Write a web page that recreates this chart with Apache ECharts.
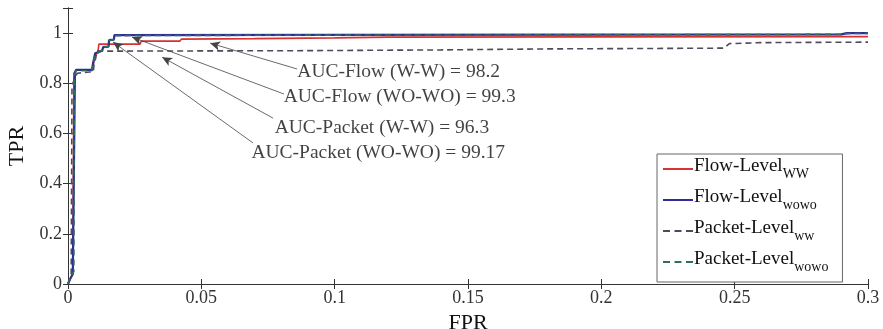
<!DOCTYPE html>
<html>
<head>
<meta charset="utf-8">
<script src="https://cdn.jsdelivr.net/npm/echarts@6/dist/echarts.min.js"></script>
<style>
  html, body { margin: 0; padding: 0; background: #fff; }
  #chart { width: 883px; height: 329px; }
</style>
</head>
<body>
<div id="chart"></div>
<script>
// ROC curves, [FPR, TPR] step corners
const flowWW = [
  [0, 0], [0.0008, 0.02], [0.0018, 0.04], [0.0022, 0.84], [0.003, 0.853], [0.0092, 0.853],
  [0.0096, 0.88], [0.0102, 0.91], [0.0112, 0.925], [0.0116, 0.956], [0.027, 0.956],
  [0.0275, 0.968], [0.042, 0.968], [0.0425, 0.976], [0.07, 0.978], [0.1, 0.981],
  [0.12, 0.984], [0.2, 0.985], [0.3, 0.986]
];
const flowWOWO = [
  [0, 0], [0.0008, 0.02], [0.0018, 0.04], [0.0024, 0.045], [0.0026, 0.84], [0.003, 0.853],
  [0.009, 0.853], [0.0094, 0.88], [0.0102, 0.92], [0.0128, 0.93], [0.0132, 0.944],
  [0.0152, 0.946], [0.0154, 0.972], [0.0172, 0.974], [0.0174, 0.992], [0.1, 0.993],
  [0.2, 0.994], [0.29, 0.995], [0.292, 1], [0.3, 1]
];
const packetWW = [
  [0, 0], [0.0006, 0.02], [0.0012, 0.04], [0.0015, 0.79], [0.0025, 0.82], [0.0035, 0.84],
  [0.008, 0.845], [0.0095, 0.845], [0.0098, 0.88], [0.0104, 0.9], [0.0108, 0.928],
  [0.09, 0.93], [0.14, 0.933], [0.18, 0.937], [0.246, 0.94], [0.248, 0.958],
  [0.26, 0.962], [0.3, 0.964]
];
const packetWOWO = [
  [0, 0], [0.0006, 0.02], [0.0016, 0.04], [0.0022, 0.05], [0.0024, 0.83], [0.003, 0.85],
  [0.009, 0.85], [0.0094, 0.88], [0.0102, 0.915], [0.0128, 0.93], [0.0132, 0.944],
  [0.0152, 0.946], [0.0154, 0.97], [0.0172, 0.974], [0.0174, 0.99], [0.1, 0.992],
  [0.2, 0.993], [0.29, 0.995], [0.292, 0.998], [0.3, 0.999]
];

const seriesNames = ['Flow-Level WW', 'Flow-Level wowo', 'Packet-Level ww', 'Packet-Level wowo'];
const legendMain = ['Flow-Level', 'Flow-Level', 'Packet-Level', 'Packet-Level'];
const legendSub = ['WW', 'wowo', 'ww', 'wowo'];

// AUC annotations: text, text anchor, arrow tail and arrow head (data coords)
const annoText = ['AUC-Flow (W-W) = 98.2', 'AUC-Flow (WO-WO) = 99.3',
  'AUC-Packet (W-W) = 96.3', 'AUC-Packet (WO-WO) = 99.17'];
const annoAt = [[0.0858, 0.845], [0.0807, 0.745], [0.0773, 0.6215], [0.0686, 0.522]];
const annoFrom = [[0.0859, 0.857], [0.081, 0.757], [0.0769, 0.661], [0.0694, 0.562]];
const annoTo = [[0.0533, 0.960], [0.024, 0.984], [0.0353, 0.904], [0.0169, 0.964]];

const serif = '"Liberation Serif", "DejaVu Serif", serif';
const axisColor = '#333';

// legend samples: solid bar or three dashes
const solidIcon = 'path://M0,0h30v2h-30z';
const dashIcon = 'path://M0,0h7v2h-7z M11.5,0h7v2h-7z M23,0h7v2h-7z';
const legendIcons = [solidIcon, solidIcon, dashIcon, dashIcon];

const chart = echarts.init(document.getElementById('chart'));

const tickFmt = v => (Math.abs(v - 1.1) < 1e-9 ? '' : String(+v.toFixed(2)));

const boxAxis = {
  axisLine: { show: true, lineStyle: { color: axisColor, width: 1 } },
  axisTick: { show: true, inside: true, length: 5, lineStyle: { color: axisColor } },
  splitLine: { show: false }
};

function curve(name, data, color, width, dashed, z) {
  return {
    name, type: 'line', data, showSymbol: false, symbol: 'none', z,
    lineStyle: { color, width, type: dashed ? [6, 4] : 'solid' },
    itemStyle: { color },
    animation: false
  };
}

chart.setOption({
  animation: false,
  grid: { left: 68, right: 15, top: 8, bottom: 45, containLabel: false, outerBoundsMode: 'none' },
  xAxis: [
    Object.assign({
      type: 'value', min: 0, max: 0.3, interval: 0.05, position: 'bottom',
      name: 'FPR', nameLocation: 'middle', nameGap: 22,
      nameTextStyle: { fontFamily: serif, fontSize: 22, color: '#111' },
      axisLabel: { formatter: tickFmt, fontFamily: serif, fontSize: 18, color: axisColor, margin: 5 }
    }, boxAxis),
    Object.assign({
      type: 'value', min: 0, max: 0.3, interval: 0.05, position: 'top',
      axisLabel: { show: false }
    }, boxAxis)
  ],
  yAxis: [
    Object.assign({
      type: 'value', min: 0, max: 1.1, interval: 0.2, position: 'left',
      name: 'TPR', nameLocation: 'middle', nameGap: 40,
      nameTextStyle: { fontFamily: serif, fontSize: 22, color: '#111' },
      axisLabel: { formatter: tickFmt, fontFamily: serif, fontSize: 18, color: axisColor, margin: 6 }
    }, boxAxis),
    Object.assign({
      type: 'value', min: 0, max: 1.1, interval: 0.2, position: 'right',
      axisLabel: { show: false }
    }, boxAxis)
  ],
  legend: {
    data: seriesNames.map((n, i) => ({ name: n, icon: legendIcons[i] })),
    orient: 'vertical',
    left: 657, top: 154,
    width: 187,
    padding: [1, 14, 8, 6],
    itemGap: 5,
    itemWidth: 30,
    itemHeight: 2,
    backgroundColor: '#fff',
    borderColor: '#666',
    borderWidth: 1,
    selectedMode: false,
    formatter: name => {
      const i = seriesNames.indexOf(name);
      return '{m|' + legendMain[i] + '}{s|' + legendSub[i] + '}';
    },
    textStyle: {
      padding: [0, 0, 0, -4],
      rich: {
        m: { fontFamily: serif, fontSize: 19, color: '#111', lineHeight: 24, verticalAlign: 'top' },
        s: { fontFamily: serif, fontSize: 14, color: '#111', lineHeight: 24, verticalAlign: 'bottom', padding: [12, 0, 0, 0] }
      }
    }
  },
  series: [
    curve(seriesNames[0], flowWW, '#d83232', 1.6, false, 2),
    curve(seriesNames[1], flowWOWO, '#2e2e94', 2.2, false, 3),
    curve(seriesNames[2], packetWW, '#4e4a5a', 1.6, true, 4),
    curve(seriesNames[3], packetWOWO, '#2f6e62', 1.6, true, 5),
    {
      name: 'notes', type: 'scatter', silent: true, z: 6,
      symbolSize: 1, itemStyle: { color: 'rgba(0,0,0,0)' },
      data: annoAt.map((p, i) => ({ value: p, label: { formatter: annoText[i] } })),
      label: {
        show: true, position: 'right', distance: 0,
        fontFamily: serif, fontSize: 19.5, color: '#111'
      },
      markLine: {
        silent: true, symbol: ['none', 'arrow'], symbolSize: [7, 10],
        lineStyle: { color: '#444', width: 0.8, type: 'solid' },
        label: { show: false },
        data: annoFrom.map((p, i) => [{ coord: p }, { coord: annoTo[i] }])
      }
    }
  ]
});
</script>
</body>
</html>
